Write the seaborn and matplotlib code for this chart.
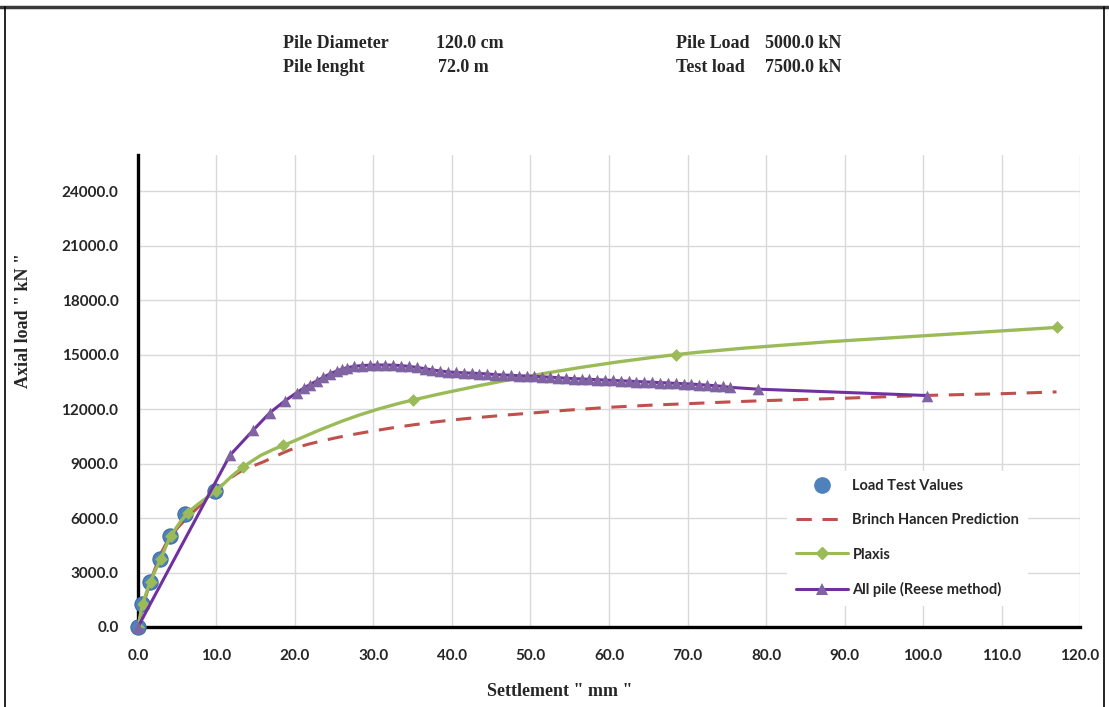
import matplotlib
matplotlib.use('Agg')
import matplotlib.pyplot as plt
import numpy as np
import pandas as pd
import seaborn as sns
from matplotlib.lines import Line2D
from matplotlib.path import Path
from matplotlib.patches import PathPatch
from matplotlib.ticker import FormatStrFormatter

# load test (measured)
test_settlement = [0.0, 0.5, 1.5, 2.8, 4.1, 6.0, 9.8]
test_load = [0, 1250, 2500, 3750, 5000, 6250, 7500]

# Plaxis model
plaxis_settlement = [0.0, 0.6, 1.6, 2.9, 4.2, 6.4, 9.9, 13.4, 18.5, 35.0, 68.5, 117.0]
plaxis_load = [0, 1250, 2500, 3750, 5000, 6300, 7500, 8800, 10000, 12500, 15000, 16500]

# Brinch Hansen prediction
bh_settlement = [0, 1.6, 4.2, 9.9, 13, 16, 20, 25, 30, 35, 40, 45, 50, 60, 70, 80, 90, 100, 110, 117]
bh_load = [0, 2500, 5000, 7500, 8550, 9100, 9850, 10400, 10800, 11130, 11400, 11600, 11780,
           12100, 12300, 12470, 12600, 12750, 12850, 12950]

# All pile (Reese method)
reese_settlement = [0.0, 11.7, 14.7, 16.8, 18.7, 20.2, 21.1, 21.9, 22.8, 23.6, 24.4, 25.3,
                    26.0, 26.6, 27.5, 28.5, 29.5, 30.5, 31.5, 32.5, 33.5, 34.5, 35.5,
                    36.5, 37.5, 38.5, 39.5, 40.5, 41.5, 42.5, 43.5, 44.5, 45.5, 46.5,
                    47.5, 48.5, 49.5, 50.5, 51.5, 52.5, 53.5, 54.5, 55.5, 56.5, 57.5,
                    58.5, 59.5, 60.5, 61.5, 62.5, 63.5, 64.5, 65.5, 66.5, 67.5, 68.5,
                    69.5, 70.5, 71.5, 72.5, 73.5, 74.5, 75.4, 79.0, 100.5]
reese_load = [0, 9450, 10850, 11800, 12450, 12900, 13150, 13350, 13560, 13750, 13930, 14100,
              14200, 14280, 14350, 14400, 14420, 14430, 14430, 14420, 14400, 14350, 14300,
              14230, 14160, 14100, 14050, 14020, 14000, 13980, 13960, 13940, 13900, 13880,
              13860, 13840, 13820, 13800, 13780, 13760, 13730, 13700, 13680, 13660, 13640,
              13620, 13600, 13580, 13560, 13540, 13520, 13500, 13480, 13460, 13440, 13420,
              13400, 13380, 13350, 13320, 13290, 13250, 13200, 13100, 12750]

x_ticks = np.arange(0, 121, 10)
y_ticks = np.arange(0, 24001, 3000)

blue = '#4F81BD'
red = '#C0504D'
green = '#9BBB59'
purple = '#7030A0'
purple_mk = '#8064A2'


def smooth_path(x, y):
    # excel-like smoothed line, catmull-rom segments as bezier curves
    pts = np.column_stack([x, y]).astype(float)
    n = len(pts)
    verts = [pts[0]]
    codes = [Path.MOVETO]
    for i in range(n - 1):
        p0 = pts[max(i - 1, 0)]
        p1 = pts[i]
        p2 = pts[i + 1]
        p3 = pts[min(i + 2, n - 1)]
        verts += [p1 + (p2 - p0) / 6, p2 - (p3 - p1) / 6, p2]
        codes += [Path.CURVE4] * 3
    return Path(verts, codes)


sns.set_style("white")
serif = ['Liberation Serif', 'DejaVu Serif']
sans = ['Lato', 'DejaVu Sans']

fig = plt.figure(figsize=(11.09, 7.07), dpi=100)
ax = fig.add_axes([0.1244, 0.1132, 0.8495, 0.6676])

df_test = pd.DataFrame({'s': test_settlement, 'q': test_load})
df_plx = pd.DataFrame({'s': plaxis_settlement, 'q': plaxis_load})
df_bh = pd.DataFrame({'s': bh_settlement, 'q': bh_load})
df_rs = pd.DataFrame({'s': reese_settlement, 'q': reese_load})

# Brinch Hansen dashed curve
ax.add_patch(PathPatch(smooth_path(df_bh['s'], df_bh['q']), facecolor='none', edgecolor=red,
                       lw=2.2, linestyle=(0, (5, 3.5)), zorder=2))

sns.scatterplot(x='s', y='q', data=df_test, ax=ax, color=blue, s=120, marker='o',
                edgecolor='#3F6E9E', linewidth=0.8, zorder=7, legend=False, clip_on=False)

ax.add_patch(PathPatch(smooth_path(df_plx['s'], df_plx['q']), facecolor='none', edgecolor=green,
                       lw=2.4, zorder=8))
sns.scatterplot(x='s', y='q', data=df_plx, ax=ax, color=green, s=42, marker='D',
                linewidth=0, zorder=8, legend=False)

sns.lineplot(x='s', y='q', data=df_rs, ax=ax, color=purple, lw=2.2, sort=False,
             zorder=9, legend=False)
sns.scatterplot(x='s', y='q', data=df_rs, ax=ax, color=purple_mk, s=70, marker='^',
                linewidth=0, zorder=9, legend=False, clip_on=False)

ax.set_xlim(0, 120)
ax.set_ylim(0, 26000)
ax.set_xticks(x_ticks)
ax.set_yticks(y_ticks)
ax.xaxis.set_major_formatter(FormatStrFormatter('%.1f'))
ax.yaxis.set_major_formatter(FormatStrFormatter('%.1f'))
ax.tick_params(axis='both', length=0, labelsize=11)
ax.tick_params(axis='x', pad=16)
ax.tick_params(axis='y', pad=14)
for lab in ax.get_xticklabels() + ax.get_yticklabels():
    lab.set_family(sans)
    lab.set_fontweight('bold')
    lab.set_color('#262626')

ax.grid(True, color='#D9D9D9', lw=1)
ax.set_axisbelow(True)
for side in ['top', 'right']:
    ax.spines[side].set_visible(False)
for side in ['left', 'bottom']:
    ax.spines[side].set_color('black')
    ax.spines[side].set_linewidth(2.4)
    ax.spines[side].set_zorder(6)

ax.set_xlabel('Settlement " mm "', family=serif, fontweight='bold', fontsize=13)
ax.set_ylabel('Axial load " kN "', family=serif, fontweight='bold', fontsize=13)
ax.xaxis.set_label_coords(0.448, -0.118)
ax.yaxis.set_label_coords(-0.113, 0.65)

handles = [
    Line2D([], [], ls='none', marker='o', color=blue, markersize=11),
    Line2D([], [], ls=(0, (5, 3.5)), color=red, lw=2.2),
    Line2D([], [], color=green, lw=2.2, marker='D', markersize=6),
    Line2D([], [], color=purple, lw=2.2, marker='^', markersize=8, markerfacecolor=purple_mk,
           markeredgewidth=0),
]
labels = ['Load Test Values', 'Brinch Hancen Prediction', 'Plaxis', 'All pile (Reese method)']
leg = ax.legend(handles, labels, loc='lower left', bbox_to_anchor=(0.681, 0.03),
                frameon=True, framealpha=1, facecolor='white', edgecolor='none',
                handlelength=3.6, labelspacing=1.38, handletextpad=0.3, borderpad=0.6,
                prop={'family': sans, 'weight': 'bold', 'size': 10.5})
leg.set_zorder(10)
for t in leg.get_texts():
    t.set_color('#262626')

# header text
hdr = dict(family=serif, fontweight='bold', fontsize=13, va='center', ha='left')
fig.text(283 / 1109, 1 - 43 / 707, 'Pile Diameter', **hdr)
fig.text(436 / 1109, 1 - 43 / 707, '120.0 cm', **hdr)
fig.text(283 / 1109, 1 - 68 / 707, 'Pile lenght', **hdr)
fig.text(438 / 1109, 1 - 68 / 707, '72.0 m', **hdr)
fig.text(676 / 1109, 1 - 43 / 707, 'Pile Load', **hdr)
fig.text(765 / 1109, 1 - 43 / 707, '5000.0 kN', **hdr)
fig.text(676 / 1109, 1 - 68 / 707, 'Test load', **hdr)
fig.text(765 / 1109, 1 - 68 / 707, '7500.0 kN', **hdr)

# outer frame of the chart area
fig.add_artist(Line2D([0, 1], [1 - 7 / 707, 1 - 7 / 707], transform=fig.transFigure,
                      color='#3a3a3a', lw=2.5))
fig.add_artist(Line2D([5 / 1109, 5 / 1109], [0, 1 - 7 / 707], transform=fig.transFigure,
                      color='black', lw=1.2))
fig.add_artist(Line2D([1104 / 1109, 1104 / 1109], [0, 1 - 7 / 707], transform=fig.transFigure,
                      color='black', lw=1.2))

fig.savefig('out.png', dpi=100, facecolor='white')
